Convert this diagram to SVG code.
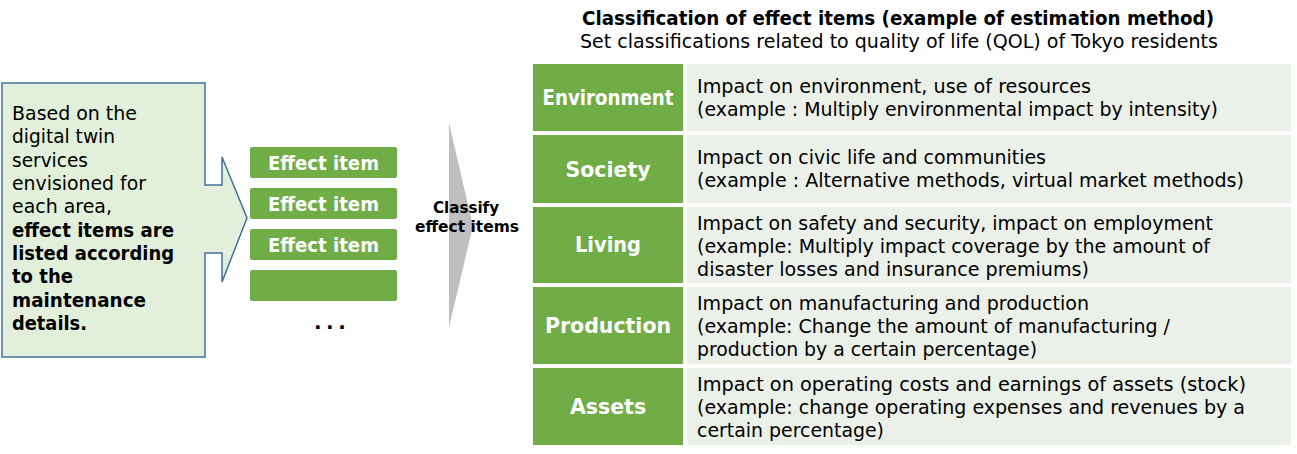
<svg xmlns="http://www.w3.org/2000/svg" width="1297" height="454" viewBox="0 0 1297 454">
<style>
text{font-family:"DejaVu Sans","Verdana",sans-serif;}
.lt{font-size:20px;fill:#000;}
.ltb{font-size:20px;font-weight:bold;fill:#000;}
.item{fill:#70AD47;}
.itemt{font-size:19.5px;font-weight:bold;fill:#fff;text-anchor:middle;}
.cat{fill:#70AD47;}
.catt{font-size:20.5px;font-weight:bold;fill:#fff;text-anchor:middle;}
.desc{fill:#EBF0E8;}
.dt{font-size:19.5px;fill:#000;}
</style>
<rect width="1297" height="454" fill="#fff"/>

<g id="callout">
<path d="M2,83 H205 V185 H222 V157 L247,218 L222,282 V253 H205 V357 H2 Z" fill="#E2EFDA" stroke="#41719C" stroke-width="1.5"/>
<text class="lt" x="12" y="120" textLength="125" lengthAdjust="spacingAndGlyphs">Based on the</text>
<text class="lt" x="12" y="143.3" textLength="103" lengthAdjust="spacingAndGlyphs">digital twin</text>
<text class="lt" x="12" y="166.7" textLength="76" lengthAdjust="spacingAndGlyphs">services</text>
<text class="lt" x="12" y="190" textLength="134" lengthAdjust="spacingAndGlyphs">envisioned for</text>
<text class="lt" x="12" y="213.3" textLength="100" lengthAdjust="spacingAndGlyphs">each area,</text>
<text class="ltb" x="12" y="236.7" textLength="162" lengthAdjust="spacingAndGlyphs">effect items are</text>
<text class="ltb" x="12" y="260" textLength="162" lengthAdjust="spacingAndGlyphs">listed according</text>
<text class="ltb" x="12" y="283.3" textLength="61" lengthAdjust="spacingAndGlyphs">to the</text>
<text class="ltb" x="12" y="306.7" textLength="134" lengthAdjust="spacingAndGlyphs">maintenance</text>
<text class="ltb" x="12" y="330" textLength="75" lengthAdjust="spacingAndGlyphs">details.</text>
</g>

<g id="effect-items">
<rect class="item" x="250" y="147" width="147" height="31" rx="2"/>
<text class="itemt" x="323.5" y="170" textLength="111" lengthAdjust="spacingAndGlyphs">Effect item</text>
<rect class="item" x="250" y="188" width="147" height="31" rx="2"/>
<text class="itemt" x="323.5" y="211" textLength="111" lengthAdjust="spacingAndGlyphs">Effect item</text>
<rect class="item" x="250" y="229" width="147" height="31" rx="2"/>
<text class="itemt" x="323.5" y="252" textLength="111" lengthAdjust="spacingAndGlyphs">Effect item</text>
<rect class="item" x="250" y="270" width="147" height="31" rx="2"/>
<text x="314" y="329" font-size="20" font-weight="bold" letter-spacing="4.5" fill="#000">...</text>
</g>

<g id="connectors">
<path d="M449,123 L473,226 L449,327 Z" fill="#BFBFBF"/>
</g>
<g id="classify-label">
<text x="466" y="213" font-size="16.5" font-weight="bold" text-anchor="middle" fill="#000" textLength="66" lengthAdjust="spacingAndGlyphs">Classify</text>
<text x="467" y="232" font-size="16.5" font-weight="bold" text-anchor="middle" fill="#000" textLength="104" lengthAdjust="spacingAndGlyphs">effect items</text>
</g>

<g id="title">
<text x="582" y="25" font-size="19.5" font-weight="bold" fill="#000" textLength="632" lengthAdjust="spacingAndGlyphs">Classification of effect items (example of estimation method)</text>
<text x="580" y="48" font-size="19.5" fill="#000" textLength="638" lengthAdjust="spacingAndGlyphs">Set classifications related to quality of life (QOL) of Tokyo residents</text>
</g>

<g id="environment">
<rect class="cat" x="533" y="64" width="150" height="67"/>
<rect class="desc" x="687" y="64" width="604" height="67"/>
<text class="catt" x="608" y="105" textLength="131" lengthAdjust="spacingAndGlyphs">Environment</text>
<text class="dt" x="697" y="93" textLength="394" lengthAdjust="spacingAndGlyphs">Impact on environment, use of resources</text>
<text class="dt" x="697" y="116" textLength="521" lengthAdjust="spacingAndGlyphs">(example : Multiply environmental impact by intensity)</text>
</g>

<g id="society">
<rect class="cat" x="533" y="135" width="150" height="68"/>
<rect class="desc" x="687" y="135" width="604" height="68"/>
<text class="catt" x="608" y="177">Society</text>
<text class="dt" x="697" y="164" textLength="349" lengthAdjust="spacingAndGlyphs">Impact on civic life and communities</text>
<text class="dt" x="697" y="187" textLength="547" lengthAdjust="spacingAndGlyphs">(example : Alternative methods, virtual market methods)</text>
</g>

<g id="living">
<rect class="cat" x="533" y="207" width="150" height="76"/>
<rect class="desc" x="687" y="207" width="604" height="76"/>
<text class="catt" x="608" y="252" textLength="66" lengthAdjust="spacingAndGlyphs">Living</text>
<text class="dt" x="697" y="230" textLength="516" lengthAdjust="spacingAndGlyphs">Impact on safety and security, impact on employment</text>
<text class="dt" x="697" y="253" textLength="513" lengthAdjust="spacingAndGlyphs">(example: Multiply impact coverage by the amount of</text>
<text class="dt" x="697" y="276" textLength="392" lengthAdjust="spacingAndGlyphs">disaster losses and insurance premiums)</text>
</g>

<g id="production">
<rect class="cat" x="533" y="287" width="150" height="77"/>
<rect class="desc" x="687" y="287" width="604" height="77"/>
<text class="catt" x="608" y="333">Production</text>
<text class="dt" x="697" y="310" textLength="392" lengthAdjust="spacingAndGlyphs">Impact on manufacturing and production</text>
<text class="dt" x="697" y="333" textLength="473" lengthAdjust="spacingAndGlyphs">(example: Change the amount of manufacturing /</text>
<text class="dt" x="697" y="356" textLength="340" lengthAdjust="spacingAndGlyphs">production by a certain percentage)</text>
</g>

<g id="assets">
<rect class="cat" x="533" y="368" width="150" height="77"/>
<rect class="desc" x="687" y="368" width="604" height="77"/>
<text class="catt" x="608" y="414">Assets</text>
<text class="dt" x="697" y="391" textLength="549" lengthAdjust="spacingAndGlyphs">Impact on operating costs and earnings of assets (stock)</text>
<text class="dt" x="697" y="414" textLength="548" lengthAdjust="spacingAndGlyphs">(example: change operating expenses and revenues by a</text>
<text class="dt" x="697" y="437" textLength="187" lengthAdjust="spacingAndGlyphs">certain percentage)</text>
</g>
</svg>
